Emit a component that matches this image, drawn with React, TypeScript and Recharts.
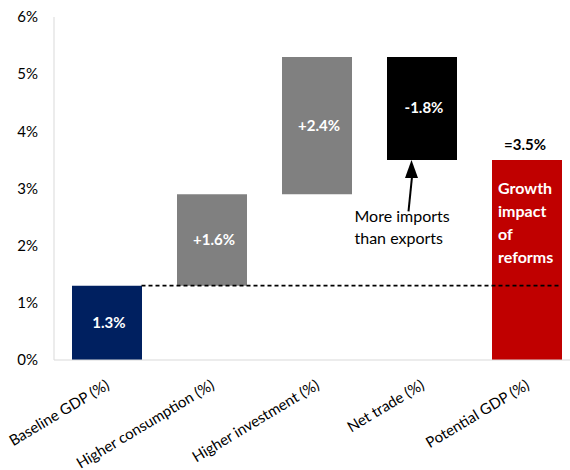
import React from 'react';
import { Bar, BarChart, Cell, LabelList, ReferenceLine, XAxis, YAxis } from 'recharts';

const categories = [
  'Baseline GDP (%)',
  'Higher consumption (%)',
  'Higher investment (%)',
  'Net trade (%)',
  'Potential GDP (%)',
];
const baseValues = [0, 1.3, 2.9, 3.5, 0];
const stepValues = [1.3, 1.6, 2.4, 1.8, 3.5];
const stepLabels = ['1.3%', '+1.6%', '+2.4%', '-1.8%', '=3.5%'];
const barColors = ['#002060', '#808080', '#808080', '#000000', '#C00000'];
const yTicks = [0, 1, 2, 3, 4, 5, 6];

const baselineLevel = 1.3;
const arrowFrom = 2.6;
const arrowTo = 3.5;
const noteLines = ['More imports', 'than exports'];
const reformLines = ['Growth', 'impact', 'of', 'reforms'];

const data = categories.map((name, i) => ({
  name,
  base: baseValues[i],
  value: stepValues[i],
  label: stepLabels[i],
}));

const FONT = 'Lato, "Open Sans", sans-serif';
const BAR_SIZE = 70;

function XTick({ x, y, payload }: any) {
  return (
    <g transform={`translate(${x + 4},${y + 28})`}>
      <text textAnchor="end" transform="rotate(-31)" fontSize={15} fill="#000" fontFamily={FONT}>
        {payload.value}
      </text>
    </g>
  );
}

function StepLabel(props: any) {
  const { x, y, width, height, index } = props;
  const cx = x + width / 2;
  if (index === categories.length - 1) {
    return (
      <g fontFamily={FONT} fontWeight="bold">
        <text x={cx - 2} y={y - 10} textAnchor="middle" fontSize={15} fill="#000">
          {stepLabels[index]}
        </text>
        {reformLines.map((line, i) => (
          <text key={line} x={x + 6} y={y + 34 + i * 23} fontSize={16} fill="#fff">
            {line}
          </text>
        ))}
      </g>
    );
  }
  return (
    <text
      x={cx + 2}
      y={y + height / 2 + 5}
      textAnchor="middle"
      fontSize={15}
      fontWeight="bold"
      fill="#fff"
      fontFamily={FONT}
    >
      {stepLabels[index]}
    </text>
  );
}

function DashedBaseline({ x1, y1, x2 }: any) {
  return (
    <line
      x1={x1 + BAR_SIZE / 2}
      y1={y1}
      x2={x2 + BAR_SIZE / 2 - 1}
      y2={y1}
      stroke="#000"
      strokeWidth={1.8}
      strokeDasharray="4 3"
    />
  );
}

function ImportsArrow({ x1, y1, y2 }: any) {
  const bx = x1 - 13;
  const tx = x1 - 10;
  return (
    <g>
      <line x1={bx} y1={y1} x2={tx + 0.6} y2={y2 + 16} stroke="#000" strokeWidth={2} />
      <polygon points={`${tx},${y2} ${tx - 6.5},${y2 + 18} ${tx + 6.5},${y2 + 18}`} fill="#000" />
      {noteLines.map((line, i) => (
        <text key={line} x={x1 - 67} y={y1 + 11 + i * 22} fontSize={16} fill="#000" fontFamily={FONT}>
          {line}
        </text>
      ))}
    </g>
  );
}

export default function App() {
  return (
    <div
      style={{
        position: 'absolute',
        left: 0,
        top: 0,
        width: 570,
        height: 470,
        overflow: 'hidden',
        background: '#fff',
      }}
    >
      <BarChart
        width={590}
        height={470}
        data={data}
        margin={{ top: 17, right: 11, bottom: 30, left: 0 }}
        barSize={BAR_SIZE}
      >
        <XAxis
          dataKey="name"
          interval={0}
          tick={<XTick />}
          tickLine={false}
          tickSize={0}
          tickMargin={0}
          height={80}
          axisLine={{ stroke: '#d9d9d9' }}
        />
        <YAxis
          domain={[0, 6]}
          ticks={yTicks}
          width={54}
          tickFormatter={(v) => `${v}%`}
          tickLine={false}
          tickSize={0}
          tickMargin={16}
          axisLine={{ stroke: '#d9d9d9' }}
          tick={{ fontSize: 15, fill: '#000', fontFamily: FONT }}
          interval={0}
        />
        <Bar dataKey="base" stackId="w" fill="transparent" isAnimationActive={false} />
        <Bar dataKey="value" stackId="w" isAnimationActive={false}>
          {data.map((d, i) => (
            <Cell key={d.name} fill={barColors[i]} />
          ))}
          <LabelList dataKey="label" content={<StepLabel />} />
        </Bar>
        <ReferenceLine
          segment={[
            { x: categories[0], y: baselineLevel },
            { x: categories[4], y: baselineLevel },
          ]}
          shape={<DashedBaseline />}
        />
        <ReferenceLine
          segment={[
            { x: categories[3], y: arrowFrom },
            { x: categories[3], y: arrowTo },
          ]}
          shape={<ImportsArrow />}
        />
      </BarChart>
    </div>
  );
}
